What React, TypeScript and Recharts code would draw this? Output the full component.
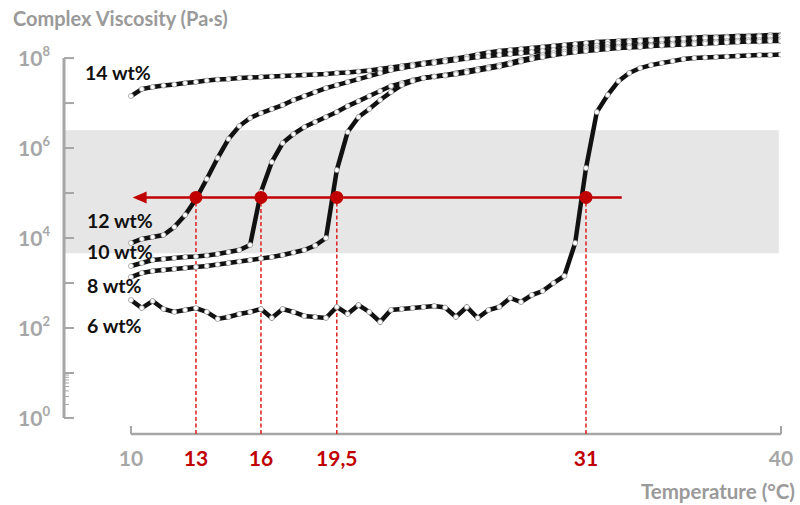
import React from 'react';
import { ComposedChart, Line, XAxis, YAxis, ReferenceArea, ReferenceLine, ReferenceDot } from 'recharts';

// Temperature (°C) of each measured point
const temperatures = [
  10, 10.5, 11, 11.5, 12, 12.5, 13, 13.5, 14, 14.5,
  15, 15.5, 16, 16.5, 17, 17.5, 18, 18.5, 19, 19.5,
  20, 20.5, 21, 21.5, 22, 22.5, 23, 23.5, 24, 24.5,
  25, 25.5, 26, 26.5, 27, 27.5, 28, 28.5, 29, 29.5,
  30, 30.5, 31, 31.5, 32, 32.5, 33, 33.5, 34, 34.5,
  35, 35.5, 36, 36.5, 37, 37.5, 38, 38.5, 39, 39.5, 40,
];

// log10 of complex viscosity (Pa·s)
const log14 = [
  7.156, 7.311, 7.356, 7.389, 7.411, 7.444, 7.467, 7.5, 7.522, 7.533,
  7.556, 7.567, 7.578, 7.589, 7.6, 7.611, 7.622, 7.633, 7.644, 7.667,
  7.678, 7.7, 7.722, 7.756, 7.789, 7.822, 7.856, 7.889, 7.922, 7.956,
  7.989, 8.033, 8.078, 8.122, 8.156, 8.178, 8.2, 8.222, 8.244, 8.267,
  8.289, 8.311, 8.333, 8.356, 8.367, 8.378, 8.389, 8.4, 8.411, 8.422,
  8.433, 8.444, 8.456, 8.467, 8.467, 8.478, 8.489, 8.489, 8.5, 8.511, 8.511,
];
const log12 = [
  3.889, 3.978, 4.022, 4.067, 4.244, 4.511, 4.867, 5.311, 5.778, 6.2,
  6.489, 6.667, 6.778, 6.867, 6.956, 7.067, 7.156, 7.244, 7.333, 7.4,
  7.467, 7.533, 7.6, 7.667, 7.733, 7.778, 7.822, 7.867, 7.889, 7.922,
  7.956, 7.989, 8.022, 8.044, 8.067, 8.089, 8.111, 8.133, 8.156, 8.178,
  8.2, 8.222, 8.244, 8.278, 8.311, 8.333, 8.356, 8.378, 8.389, 8.4,
  8.411, 8.422, 8.433, 8.444, 8.444, 8.456, 8.467, 8.467, 8.478, 8.478, 8.489,
];
const log10wt = [
  3.378, 3.444, 3.511, 3.533, 3.556, 3.578, 3.589, 3.611, 3.644, 3.689,
  3.733, 3.844, 5.022, 5.689, 6.111, 6.311, 6.467, 6.578, 6.689, 6.8,
  6.933, 7.044, 7.156, 7.267, 7.378, 7.444, 7.511, 7.556, 7.589, 7.622,
  7.667, 7.711, 7.756, 7.8, 7.844, 7.9, 7.956, 8.011, 8.067, 8.111,
  8.144, 8.178, 8.2, 8.222, 8.244, 8.256, 8.267, 8.278, 8.289, 8.311,
  8.322, 8.333, 8.344, 8.356, 8.367, 8.378, 8.389, 8.4, 8.4, 8.411, 8.422,
];
const log8 = [
  3.133, 3.222, 3.267, 3.289, 3.311, 3.333, 3.356, 3.378, 3.411, 3.444,
  3.478, 3.511, 3.544, 3.578, 3.622, 3.678, 3.733, 3.833, 4.0, 5.511,
  6.356, 6.689, 6.867, 7.067, 7.244, 7.4, 7.489, 7.556, 7.589, 7.611,
  7.644, 7.678, 7.722, 7.767, 7.811, 7.867, 7.922, 7.978, 8.022, 8.067,
  8.1, 8.133, 8.156, 8.178, 8.2, 8.222, 8.233, 8.244, 8.267, 8.278,
  8.289, 8.3, 8.311, 8.322, 8.333, 8.344, 8.356, 8.367, 8.367, 8.378, 8.378,
];
const log6 = [
  2.622, 2.444, 2.6, 2.422, 2.356, 2.4, 2.444, 2.356, 2.2, 2.244,
  2.311, 2.356, 2.422, 2.222, 2.422, 2.356, 2.267, 2.244, 2.222, 2.467,
  2.311, 2.511, 2.356, 2.133, 2.4, 2.422, 2.444, 2.467, 2.489, 2.456,
  2.244, 2.467, 2.222, 2.4, 2.467, 2.667, 2.578, 2.733, 2.822, 3.0,
  3.156, 3.889, 5.556, 6.8, 7.178, 7.489, 7.667, 7.778, 7.844, 7.889,
  7.933, 7.978, 8.0, 8.011, 8.022, 8.033, 8.044, 8.056, 8.067, 8.067, 8.078,
];

// Gelation temperatures and the target viscosity line
const gelTemps = [13, 16, 19.5, 31];
const gelViscosity = 8e4;
const arrowTipTemp = 10.4;
const arrowEndTemp = 32.65;
const bandLow = 4.6e3;
const bandHigh = 2.5e6;
const bandEndTemp = 39.9;

const xTicks = [10, 13, 16, 19.5, 31, 40];
const xTickLabels = ['10', '13', '16', '19,5', '31', '40'];
const yTicks = [1, 2, 3, 4, 5, 6, 7, 8, 9, 10, 1e2, 1e3, 1e4, 1e5, 1e6, 1e7, 1e8];

const X_MIN = 6.91;
const X_MAX = 40;
const Y_MIN = 0.44;
const Y_MAX = 4e8;

const rows = temperatures.map((t, i) => ({
  t,
  w14: 10 ** log14[i],
  w12: 10 ** log12[i],
  w10: 10 ** log10wt[i],
  w8: 10 ** log8[i],
  w6: 10 ** log6[i],
}));

const FONT = "Lato, 'Open Sans', sans-serif";
const GREY = '#a6a6a6';
const RED = '#c00000';

const YTick = (props: any) => {
  const { x, y, payload } = props;
  const v = payload.value as number;
  const lg = Math.log10(v);
  const exp = Math.round(lg);
  const isDecade = Math.abs(lg - exp) < 1e-6;
  return (
    <g>
      <line x1={x} x2={x + (isDecade ? 10 : 5)} y1={y} y2={y} stroke={GREY} strokeWidth={isDecade ? 2 : 1} />
      {isDecade && exp % 2 === 0 && (
        <text x={x - 14} y={y + 8} textAnchor="end" fill={GREY} fontFamily={FONT} fontSize={21} fontWeight={700}>
          <tspan>10</tspan>
          <tspan dy={-10} fontSize={13}>{exp}</tspan>
        </text>
      )}
    </g>
  );
};

const XTick = (props: any) => {
  const { x, y, payload } = props;
  const v = payload.value as number;
  const idx = xTicks.indexOf(v);
  const isEnd = v === 10 || v === 40;
  return (
    <g>
      {isEnd && <line x1={x} x2={x} y1={y} y2={y - 8} stroke={GREY} strokeWidth={2} />}
      <text x={x} y={y + 32} textAnchor="middle" fill={isEnd ? GREY : RED} fontFamily={FONT} fontSize={21} fontWeight={700}>
        {xTickLabels[idx]}
      </text>
    </g>
  );
};

const ArrowHead = (props: any) => {
  const { cx, cy } = props;
  return <polygon points={`${cx - 7},${cy} ${cx + 7},${cy - 6} ${cx + 7},${cy + 6}`} fill={RED} />;
};

const dotStyle = { r: 2.5, fill: '#ffffff', stroke: '#9a9a9a', strokeWidth: 0.8 };

const seriesKeys = ['w14', 'w12', 'w10', 'w8', 'w6'];

const labelStyle: React.CSSProperties = {
  position: 'absolute',
  fontFamily: FONT,
  fontWeight: 700,
  fontSize: 19.5,
  color: '#111',
  lineHeight: '22px',
  whiteSpace: 'nowrap',
};

export default function App() {
  return (
    <div style={{ position: 'absolute', left: 0, top: 0, width: 800, height: 505, background: '#fff' }}>
      <ComposedChart width={800} height={505} data={rows} margin={{ top: 31, right: 19, bottom: 31, left: 4 }}>
        <ReferenceArea x1={X_MIN} x2={bandEndTemp} y1={bandLow} y2={bandHigh} fill="#e6e6e6" fillOpacity={1} stroke="none" ifOverflow="visible" />
        <XAxis
          dataKey="t"
          type="number"
          domain={[X_MIN, X_MAX]}
          ticks={xTicks}
          interval={0}
          axisLine={false}
          tickLine={false}
          tickSize={0}
          tickMargin={0}
          height={40}
          tick={<XTick />}
          allowDataOverflow
        />
        <YAxis
          type="number"
          scale="log"
          domain={[Y_MIN, Y_MAX]}
          ticks={yTicks}
          interval={0}
          axisLine={false}
          tickLine={false}
          tickSize={0}
          tickMargin={0}
          width={60}
          tick={<YTick />}
          allowDataOverflow
        />
        <ReferenceLine segment={[{ x: X_MIN, y: 1 }, { x: X_MIN, y: 1e8 }]} stroke={GREY} strokeWidth={3} ifOverflow="visible" />
        <ReferenceLine segment={[{ x: 10, y: Y_MIN }, { x: 40, y: Y_MIN }]} stroke={GREY} strokeWidth={2.5} ifOverflow="visible" />
        {seriesKeys.map((k) => (
          <Line
            key={k}
            dataKey={k}
            type="linear"
            stroke="#111"
            strokeWidth={4.5}
            dot={dotStyle}
            activeDot={false}
            isAnimationActive={false}
          />
        ))}
        {gelTemps.map((t) => (
          <ReferenceLine
            key={'v' + t}
            segment={[{ x: t, y: Y_MIN }, { x: t, y: gelViscosity }]}
            stroke="#dd1f1f"
            strokeWidth={1.5}
            strokeDasharray="4 2.5"
            ifOverflow="visible"
          />
        ))}
        <ReferenceLine
          segment={[{ x: arrowTipTemp, y: gelViscosity }, { x: arrowEndTemp, y: gelViscosity }]}
          stroke={RED}
          strokeWidth={2.5}
          ifOverflow="visible"
        />
        <ReferenceDot x={arrowTipTemp} y={gelViscosity} r={6} shape={<ArrowHead />} ifOverflow="visible" />
        {gelTemps.map((t) => (
          <ReferenceDot key={'d' + t} x={t} y={gelViscosity} r={6.5} fill={RED} stroke="none" ifOverflow="visible" />
        ))}
      </ComposedChart>
      <div style={{ ...labelStyle, left: 13, top: 7, color: '#9a9a9a', fontSize: 20 }}>Complex Viscosity (Pa·s)</div>
      <div style={{ ...labelStyle, right: 5, top: 480, color: '#9a9a9a', fontSize: 20.5 }}>Temperature (°C)</div>
      <div style={{ ...labelStyle, left: 85, top: 62 }}>14 wt%</div>
      <div style={{ ...labelStyle, left: 87, top: 210 }}>12 wt%</div>
      <div style={{ ...labelStyle, left: 87, top: 241 }}>10 wt%</div>
      <div style={{ ...labelStyle, left: 87, top: 275 }}>8 wt%</div>
      <div style={{ ...labelStyle, left: 87, top: 315 }}>6 wt%</div>
    </div>
  );
}
